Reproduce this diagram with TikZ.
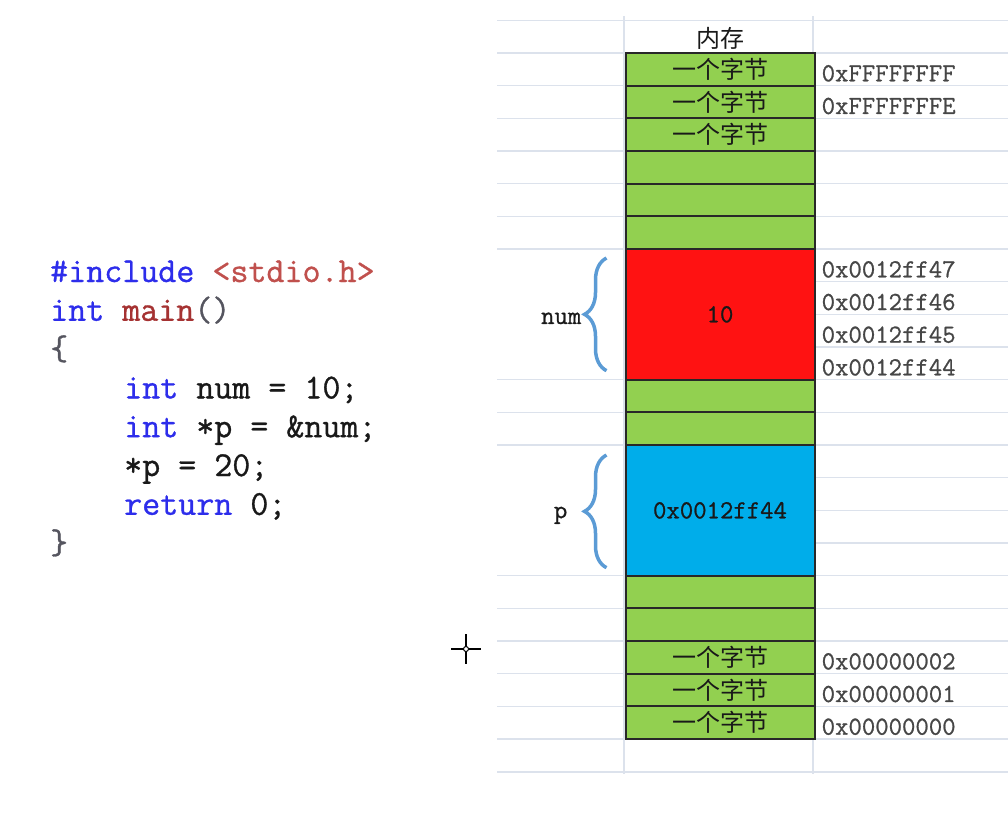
\documentclass[tikz,border=0pt]{standalone}
\usepackage{fontspec}
\newfontfamily\cjk{Noto Sans CJK SC}
\newfontfamily\codefont[FakeBold=0.9]{Latin Modern Mono}
\usepackage{tikz}
\usetikzlibrary{positioning,calc,decorations.pathreplacing}
\definecolor{cellgreen}{RGB}{146,208,80}
\definecolor{numred}{RGB}{255,18,18}
\definecolor{ptrblue}{RGB}{0,173,234}
\definecolor{celledge}{RGB}{40,40,40}
\definecolor{gridcol}{RGB}{220,226,236}
\definecolor{bracecol}{RGB}{91,155,213}
\definecolor{addrgray}{RGB}{70,70,70}
\definecolor{kw}{RGB}{45,45,235}
\definecolor{str}{RGB}{192,80,77}
\definecolor{fn}{RGB}{165,50,50}
\definecolor{punc}{RGB}{85,85,95}
\definecolor{codeblack}{RGB}{25,25,25}
\tikzset{
  byte/.style={rectangle,draw=celledge,line width=2pt,fill=cellgreen,minimum width=189pt,minimum height=32.67pt,inner sep=0pt,outer sep=0pt,text=codeblack,font=\fontsize{24}{24}\selectfont\cjk},
  numc/.style={byte,fill=numred,minimum height=130.67pt,font=\fontsize{26}{26}\selectfont\codefont},
  ptrc/.style={byte,fill=ptrblue,minimum height=130.67pt,font=\fontsize{26}{26}\selectfont\codefont},
  addr/.style={anchor=west,inner sep=0pt,text=addrgray,font=\fontsize{26}{26}\selectfont\codefont},
  lbl/.style={anchor=east,inner sep=0pt,text=codeblack,font=\fontsize{26}{26}\selectfont\codefont},
  code/.style={anchor=base west,inner sep=0pt,text=codeblack,font=\fontsize{35}{39}\selectfont\codefont},
  gline/.style={draw=gridcol,line width=1.5pt},
  brc/.style={decorate,decoration={brace,amplitude=22pt},draw=bracecol,line width=3.5pt},
}
\begin{document}
\begin{tikzpicture}[x=1pt,y=-1pt]
  \useasboundingbox (0,0) rectangle (1008,821);
  % sheet grid
  \foreach \k in {0,...,7,11,12,13,17,18,...,23}
    \draw[gline] (497,{20.33+32.67*\k}) -- (1008,{20.33+32.67*\k});
  \foreach \k in {8,9,10,14,15,16}
    \draw[gline] (813,{20.33+32.67*\k}) -- (1008,{20.33+32.67*\k});
  \draw[gline] (624,16) -- (624,774) (813,16) -- (813,774);
  \node[font=\fontsize{24}{24}\selectfont\cjk,text=codeblack,inner sep=0pt] (hdr) at (720,38) {内存};
  % memory column
  \node[byte,anchor=north] (b1) at (720,53) {一个字节};
  \node[byte,below=0pt of b1] (b2) {一个字节};
  \node[byte,below=0pt of b2] (b3) {一个字节};
  \node[byte,below=0pt of b3] (b4) {};
  \node[byte,below=0pt of b4] (b5) {};
  \node[byte,below=0pt of b5] (b6) {};
  \node[numc,below=0pt of b6] (num) {10};
  \node[byte,below=0pt of num] (b7) {};
  \node[byte,below=0pt of b7] (b8) {};
  \node[ptrc,below=0pt of b8] (p) {0x0012ff44};
  \node[byte,below=0pt of p] (b9) {};
  \node[byte,below=0pt of b9] (b10) {};
  \node[byte,below=0pt of b10] (b11) {一个字节};
  \node[byte,below=0pt of b11] (b12) {一个字节};
  \node[byte,below=0pt of b12] (b13) {一个字节};
  % addresses
  \node[addr] (aff) at ($(b1.east)+(7,4)$) {0xFFFFFFFF};
  \node[addr] (afe) at ($(b2.east)+(7,4)$) {0xFFFFFFFE};
  \foreach \a [count=\i] in {47,46,45,44}
    \node[addr] (n\a) at ($(num.north east)+(7,{32.67*\i-16.33+4})$) {0x0012ff\a};
  \node[addr] (a2) at ($(b11.east)+(7,4)$) {0x00000002};
  \node[addr] (a1) at ($(b12.east)+(7,4)$) {0x00000001};
  \node[addr] (a0) at ($(b13.east)+(7,4)$) {0x00000000};
  % variable names
  \draw[brc] ($(num.south west)+(-19,-9)$) -- ($(num.north west)+(-19,9)$);
  \node[lbl] (numname) at ($(num.west)+(-44,4)$) {num};
  \draw[brc] ($(p.south west)+(-19,-8)$) -- ($(p.north west)+(-19,10)$);
  \node[lbl] (pname) at ($(p.west)+(-58,5)$) {p};
  % source code
  \node[code] (c1) at (50,282) {\textcolor{kw}{\#include} \textcolor{str}{<stdio.h>}};
  \node[code] (c2) at (50,320.8) {\textcolor{kw}{int} \textcolor{fn}{main}\textcolor{punc}{()}};
  \node[code] (c3) at (50,359.6) {\textcolor{punc}{\{}};
  \node[code] (c4) at (124,398.4) {\textcolor{kw}{int} num = 10;};
  \node[code] (c5) at (124,437.2) {\textcolor{kw}{int} *p = \&num;};
  \node[code] (c6) at (124,476) {*p = 20;};
  \node[code] (c7) at (124,514.8) {\textcolor{kw}{return} 0;};
  \node[code] (c8) at (50,553.6) {\textcolor{punc}{\}}};
  % cursor
  \draw[line width=1.5pt] (451,649) -- (481,649) (466,634) -- (466,664);
  \draw[line width=1pt,fill=white] (466,649) circle (2.5);
\end{tikzpicture}
\end{document}
